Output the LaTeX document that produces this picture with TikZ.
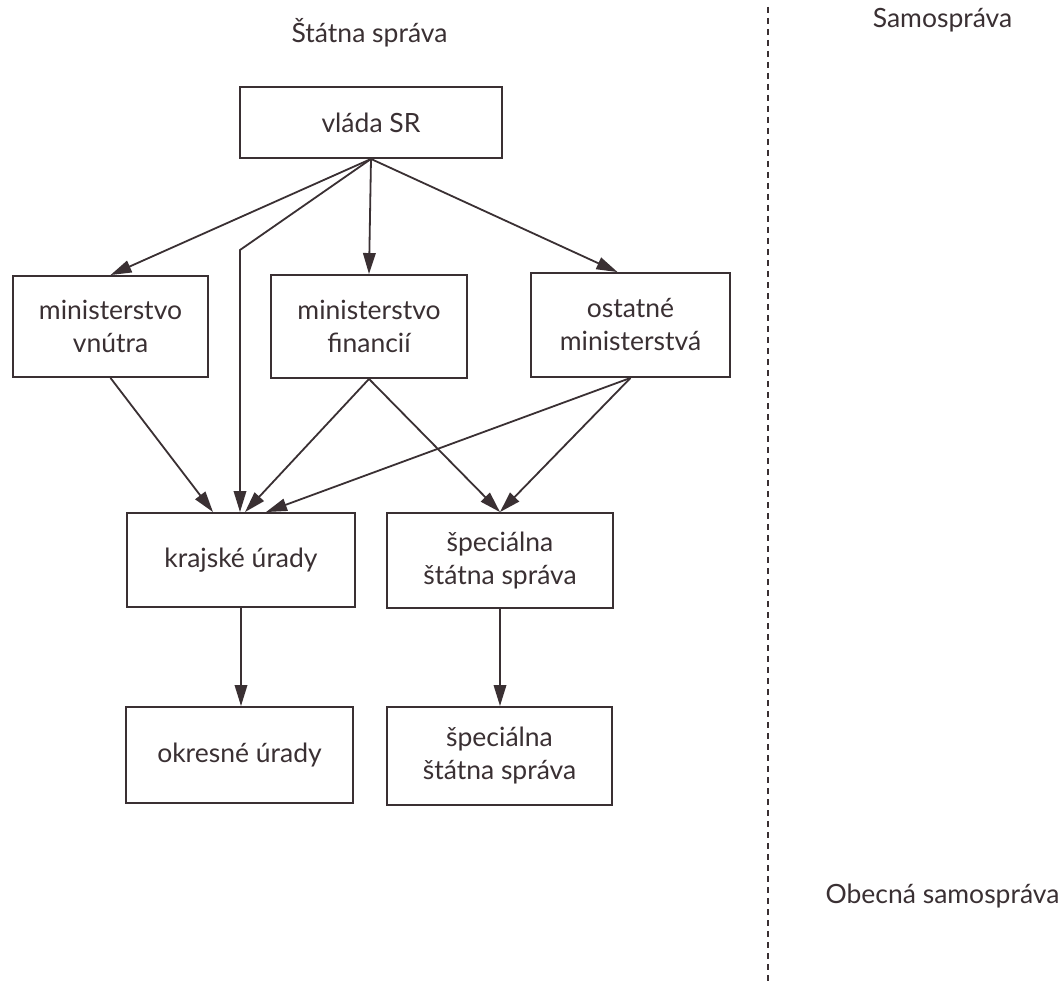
\documentclass[tikz,border=0pt]{standalone}
\usepackage{fontspec}
\setmainfont{Lato}
\usetikzlibrary{arrows.meta}
\definecolor{ink}{HTML}{3A3033}
\begin{document}
\begin{tikzpicture}[x=1pt,y=-1pt,
  box/.style={draw=ink, line width=1.9pt, rectangle, inner sep=0pt, align=center,
    text=ink, font=\fontsize{26.5}{33}\selectfont},
  link/.style={draw=ink, line width=1.8pt, -{Triangle[length=21pt,width=12.5pt]}},
  heading/.style={text=ink, font=\fontsize{26.5}{30}\selectfont, inner sep=0pt, anchor=base},
  divider/.style={draw=ink, line width=1.7pt, dash pattern=on 6pt off 5pt},
]
\useasboundingbox (0,0) rectangle (1060,987);
\fill[white] (0,0) rectangle (1060,987);

% column headings
\node[heading] (hstat) at (369.5,43) {Štátna správa};
\node[heading] (hsamo) at (942.5,28) {Samospráva};
\node[heading] (hobec) at (942.5,903) {Obecná samospráva};

% boundary between state administration and self-government
\coordinate (dtop) at (768,7);
\coordinate (dbot) at (768,983);
\draw[divider] (dtop) -- (dbot);

% boxes
\node[box, minimum width=262pt, minimum height=71pt] (vlada) at (371,122.5) {vláda SR};
\node[box, minimum width=195pt, minimum height=101pt] (mv) at (110.5,326.5) {ministerstvo\\vnútra};
\node[box, minimum width=196pt, minimum height=103pt] (mf) at (369,326.5) {ministerstvo\\financií};
\node[box, minimum width=199pt, minimum height=104pt] (om) at (630.5,325) {ostatné\\ministerstvá};
\node[box, minimum width=228pt, minimum height=94pt] (kr) at (241,560) {krajské úrady};
\node[box, minimum width=226pt, minimum height=95pt] (sp1) at (500,560.5) {špeciálna\\štátna správa};
\node[box, minimum width=227pt, minimum height=96pt] (ok) at (239.5,755) {okresné úrady};
\node[box, minimum width=225pt, minimum height=98pt] (sp2) at (499.5,756) {špeciálna\\štátna správa};

% connectors from the government
\coordinate (bend) at (240,250);
\draw[link] (vlada.south) -- (mv.north);
\draw[link] (vlada.south) -- (bend) -- (bend |- kr.north);
\draw[link] (vlada.south) -- (mf.north);
\draw[link] (vlada.south) -- ([xshift=-13pt]om.north);

% connectors from the ministries
\draw[link] (mv.south) -- ([xshift=-28pt]kr.north);
\draw[link] (mf.south) -- ([xshift=4pt]kr.north);
\draw[link] (om.south) -- ([xshift=25pt]kr.north);
\draw[link] (mf.south) -- (sp1.north);
\draw[link] (om.south) -- (sp1.north);

% lower level
\draw[link] (kr.south) -- (kr.south |- ok.north);
\draw[link] (sp1.south) -- (sp1.south |- sp2.north);
\end{tikzpicture}
\end{document}
